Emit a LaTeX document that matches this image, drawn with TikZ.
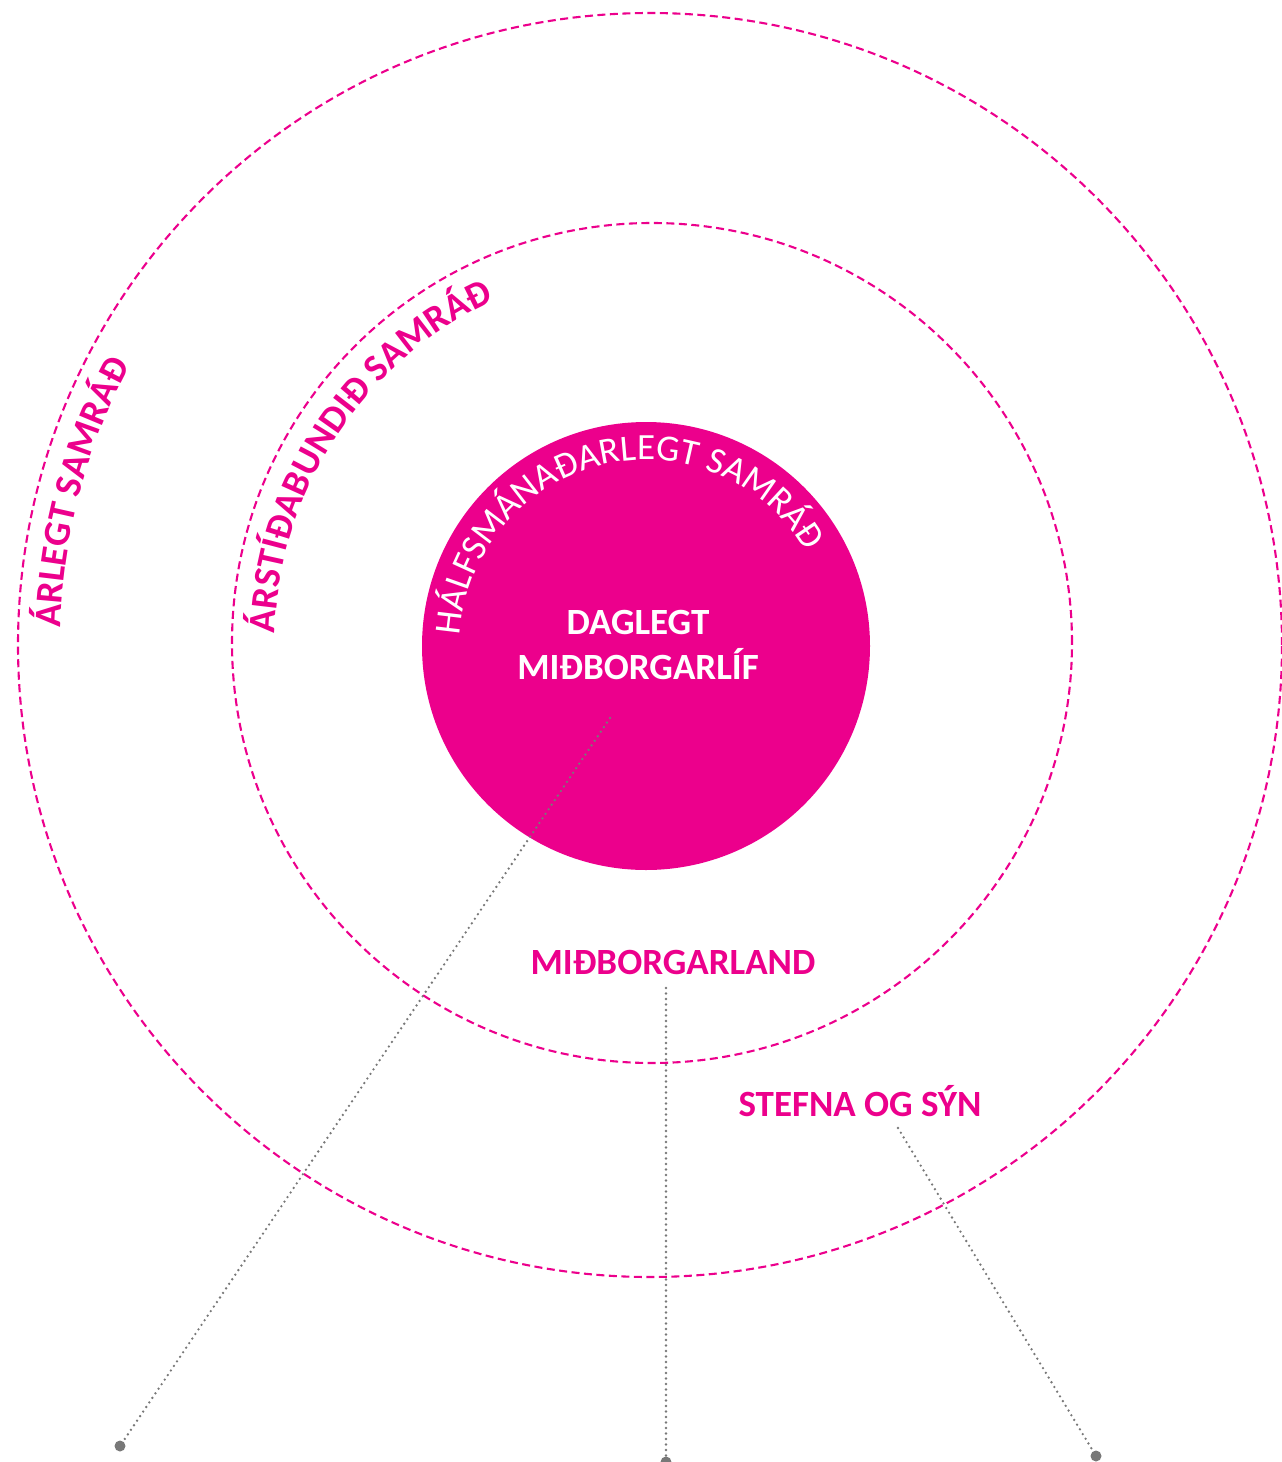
\documentclass[tikz,border=0pt]{standalone}
\usepackage{fontspec}
\setmainfont{Carlito}
\usetikzlibrary{decorations.text}
\definecolor{cityPink}{RGB}{236,0,140}
\definecolor{dotGray}{RGB}{120,120,120}
\newcommand{\ringfont}{\fontsize{38}{45}\selectfont\bfseries}
\newcommand{\discfont}{\fontsize{37}{45}\selectfont}
\tikzset{
    ring/.style={draw=cityPink, line width=2.1pt, dash pattern=on 8pt off 4.5pt},
    leader/.style={draw=dotGray, line width=2.6pt, dash pattern=on 0pt off 5.5pt, line cap=round},
    areatext/.style={text=cityPink, font=\fontsize{37}{45}\selectfont\bfseries},
    enddot/.style={circle, fill=dotGray, inner sep=0pt, minimum size=11pt},
}
\begin{document}
\begin{tikzpicture}[x=1pt,y=1pt]
    \useasboundingbox (0,0) rectangle (1282,-1462);

    % Centres
    \coordinate (outer) at (650,-645);
    \coordinate (middle) at (652,-643);
    \coordinate (inner) at (646,-646);

    % Dashed rings
    \draw[ring] (outer) circle[radius=632pt];
    \draw[ring] (middle) circle[radius=420pt];

    % Inner disc
    \fill[cityPink] (inner) circle[radius=224pt];

    % Ring texts
    \path[decorate, decoration={text along path, text align=center, text color=cityPink,
        text={|\ringfont|ÁRLEGT SAMRÁÐ}}]
        ([shift={(200:590pt)}]outer) arc[start angle=200, end angle=130, radius=590pt];
    \path[decorate, decoration={text along path, text align=center, text color=cityPink,
        text={|\ringfont|ÁRSTÍÐABUNDIÐ SAMRÁÐ}}]
        ([shift={(190:377pt)}]middle) arc[start angle=190, end angle=103.2, radius=377pt];
    \path[decorate, decoration={text along path, text align=center, text color=white,
        text={|\discfont|HÁLFSMÁNAÐARLEGT SAMRÁÐ}}]
        ([shift={(180:186pt)}]inner) arc[start angle=180, end angle=27, radius=186pt];

    % Labels
    \node[text=white, font=\fontsize{37}{45}\selectfont\bfseries, align=center] (life) at (638,-645) {DAGLEGT\\MIÐBORGARLÍF};
    \node[areatext] (land) at (673,-962) {MIÐBORGARLAND};
    \node[areatext] (policy) at (860,-1101) {STEFNA OG SÝN};

    % Leaders
    \coordinate (lifeTail) at (610,-718);
    \coordinate (landTail) at (666,-988);
    \coordinate (policyTail) at (898,-1128);
    \node[enddot] (lifeDot) at (120,-1446) {};
    \node[enddot] (landDot) at (666,-1462) {};
    \node[enddot] (policyDot) at (1096,-1456) {};
    \draw[leader] (lifeTail) -- (lifeDot);
    \draw[leader] (landTail) -- (landDot);
    \draw[leader] (policyTail) -- (policyDot);
\end{tikzpicture}
\end{document}
